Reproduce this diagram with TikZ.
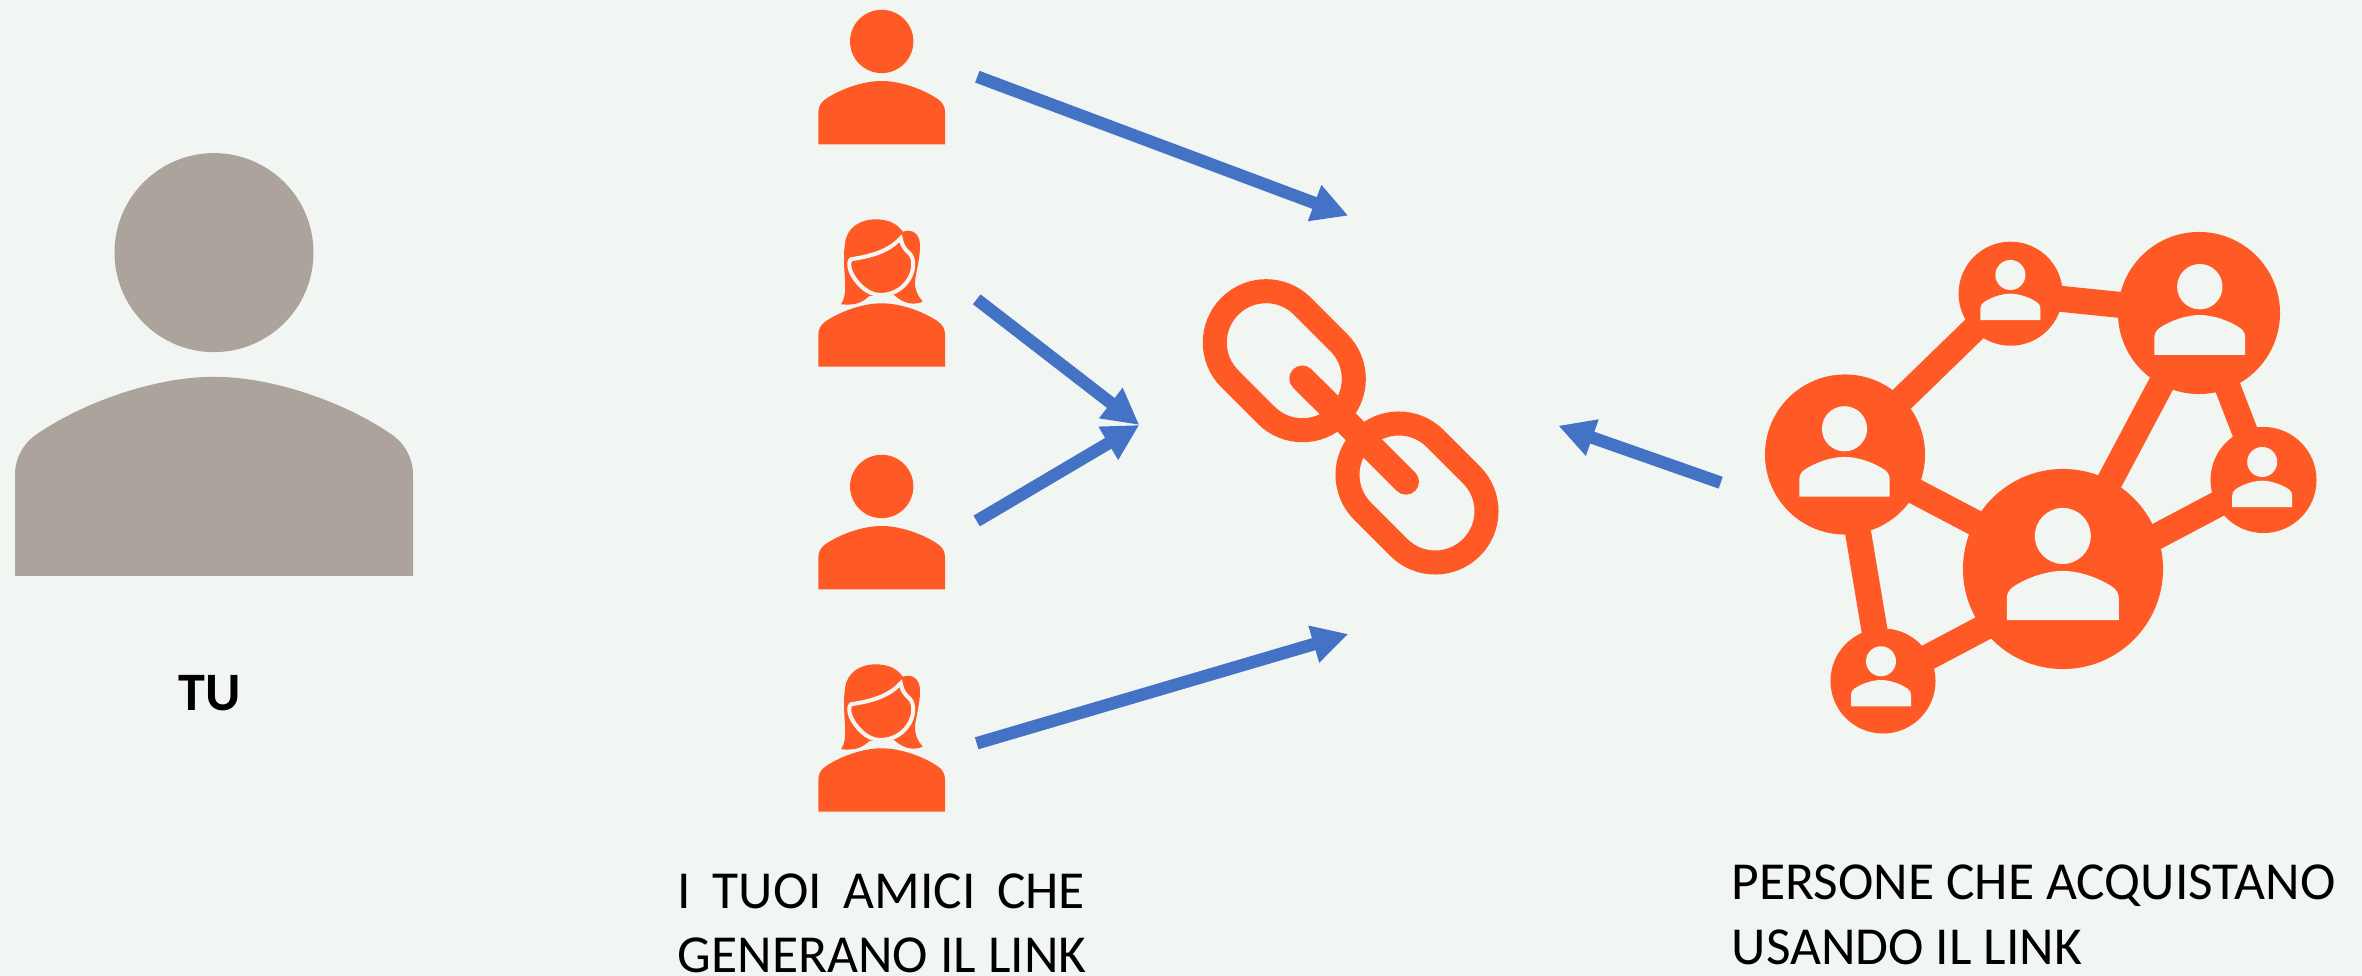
\documentclass[tikz,border=0pt]{standalone}
\usepackage{fontspec}
\setmainfont{Carlito}
\usetikzlibrary{arrows.meta}
\definecolor{sfondo}{RGB}{242,246,242}
\definecolor{arancio}{RGB}{255,90,38}
\definecolor{azzurro}{RGB}{68,114,196}
\definecolor{grigio}{RGB}{171,163,156}
\tikzset{freccia/.style={-{Triangle[length=0.36cm,width=0.36cm]}, draw=azzurro, fill=azzurro, line width=0.125cm}}
\tikzset{anello/.style={draw=arancio, rectangle, rounded corners=0.513cm, rotate=-45, inner sep=0pt,
  line width=0.24cm, minimum width=1.54cm, minimum height=1.026cm}}
\tikzset{nodorete/.style={circle, fill=arancio, inner sep=0pt}}
\tikzset{collegamento/.style={draw=arancio, line width=0.26cm}}
\tikzset{didascalia/.style={anchor=base west, align=left, inner sep=0pt, font=\fontsize{15.2}{18.2}\selectfont}}

% busto: x, y, larghezza, altezza, colore
\newcommand{\personbody}[5]{%
  \begin{scope}[shift={(#1,#2)},scale=#3]
    \fill[#5] (-0.5,#4) -- (-0.5,0.245)
      .. controls (-0.5,0.205) and (-0.48,0.168) .. (-0.445,0.144)
      .. controls (-0.33,0.065) and (-0.15,0) .. (0,0)
      .. controls (0.15,0) and (0.33,0.065) .. (0.445,0.144)
      .. controls (0.48,0.168) and (0.5,0.205) .. (0.5,0.245)
      -- (0.5,#4) -- cycle;
  \end{scope}}
\newcommand{\personicon}[5]{%
  \personbody{#1}{#2}{#3}{#4}{#5}
  \fill[#5] (#1,#2) ++(0,-0.312*#3) circle ({0.25*#3});}
\newcommand{\womanicon}[2]{%
  \personbody{#1}{#2}{126.7}{0.5}{arancio}
  \begin{scope}[shift={(#1,#2)},scale=0.3333,shift={(-305,-340)}]
    \fill[arancio] (183,343) .. controls (195,325) and (197,300) .. (195,270)
      .. controls (192,230) and (190,190) .. (195,160)
      .. controls (200,110) and (245,88) .. (285,88)
      .. controls (325,88) and (350,100) .. (368,125)
      .. controls (385,118) and (410,122) .. (418,150)
      .. controls (425,180) and (412,230) .. (405,270)
      .. controls (403,300) and (415,320) .. (428,335)
      .. controls (405,345) and (375,345) .. (342,315)
      -- (268,318) .. controls (240,345) and (215,345) .. (183,343) -- cycle;
    \draw[sfondo, line width=0.04cm] (213,208) .. controls (260,200) and (320,190) .. (362,145)
      .. controls (365,165) and (375,180) .. (390,192)
      .. controls (405,210) and (402,245) .. (385,270)
      .. controls (365,300) and (335,315) .. (300,315)
      .. controls (260,315) and (225,275) .. (212,245)
      .. controls (205,225) and (207,213) .. (213,208) -- cycle;
  \end{scope}}

\begin{document}
\begin{tikzpicture}[x=0.01cm, y=-0.01cm]
  \fill[sfondo] (0,0) rectangle (2362,976);
  \useasboundingbox (0,0) rectangle (2362,976);

  % tu
  \personicon{214}{376.8}{398}{0.5}{grigio}
  \node[font=\fontsize{15.4}{18}\selectfont\bfseries, inner sep=0pt, anchor=base] (tu) at (210,710) {TU};

  % amici
  \personicon{881.7}{81}{126.7}{0.5}{arancio}
  \womanicon{881.7}{303.3}
  \personicon{881.7}{526}{126.7}{0.5}{arancio}
  \womanicon{881.7}{748.3}
  \node[didascalia] (amici) at (677,972.7) {I\hspace{0.095cm} TUOI\hspace{0.095cm} AMICI\hspace{0.095cm} CHE\\GENERANO IL LINK};

  % catena
  \node[anello] (anelloa) at (1284.3,360.7) {};
  \node[anello] (anellob) at (1417,493) {};
  \coordinate (barraa) at (1302.3,378.5);
  \coordinate (barrab) at (1406,481.7);
  \draw[collegamento, line cap=round] (barraa) -- (barrab);

  % frecce
  \coordinate (coda1) at (977.3,76.7);
  \coordinate (punta1) at (1348.3,215.7);
  \coordinate (coda2) at (976.7,299.3);
  \coordinate (punta2) at (1139.3,425);
  \coordinate (coda3) at (976.7,521);
  \coordinate (coda4) at (976.7,743.3);
  \coordinate (punta4) at (1348.3,634);
  \coordinate (coda5) at (1720.7,482.7);
  \coordinate (punta5) at (1558.3,425.7);
  \draw[freccia] (coda1) -- (punta1);
  \draw[freccia] (coda2) -- (punta2);
  \draw[freccia] (coda3) -- (punta2);
  \draw[freccia] (coda4) -- (punta4);
  \draw[freccia] (coda5) -- (punta5);

  % rete di persone
  \node[nodorete, minimum size=2cm] (grande) at (2063,569) {};
  \node[nodorete, minimum size=1.62cm] (altodx) at (2199,313) {};
  \node[nodorete, minimum size=1.6cm] (sinistra) at (1845,454.5) {};
  \node[nodorete, minimum size=1.04cm] (altosx) at (2010.6,293.7) {};
  \node[nodorete, minimum size=1.06cm] (destra) at (2263.5,480) {};
  \node[nodorete, minimum size=1.05cm] (basso) at (1883,681) {};
  \draw[collegamento] (sinistra.center) -- (altosx.center);
  \draw[collegamento] (altosx.center) -- (altodx.center);
  \draw[collegamento] (sinistra.center) -- (grande.center);
  \draw[collegamento] (sinistra.center) -- (basso.center);
  \draw[collegamento] (grande.center) -- (altodx.center);
  \draw[collegamento] (altodx.center) -- (destra.center);
  \draw[collegamento] (basso.center) -- (destra.center);
  \personicon{2062.8}{570.9}{112}{0.44}{sfondo}
  \personicon{2199.8}{315}{90.7}{0.44}{sfondo}
  \personicon{1844.5}{456.9}{90.3}{0.44}{sfondo}
  \personicon{2010.4}{293.7}{60}{0.44}{sfondo}
  \personicon{2262.2}{480.7}{60}{0.44}{sfondo}
  \personicon{1881}{680}{60}{0.44}{sfondo}
  \node[didascalia] (persone) at (1731,964) {PERSONE CHE ACQUISTANO\\USANDO IL LINK};
\end{tikzpicture}
\end{document}
